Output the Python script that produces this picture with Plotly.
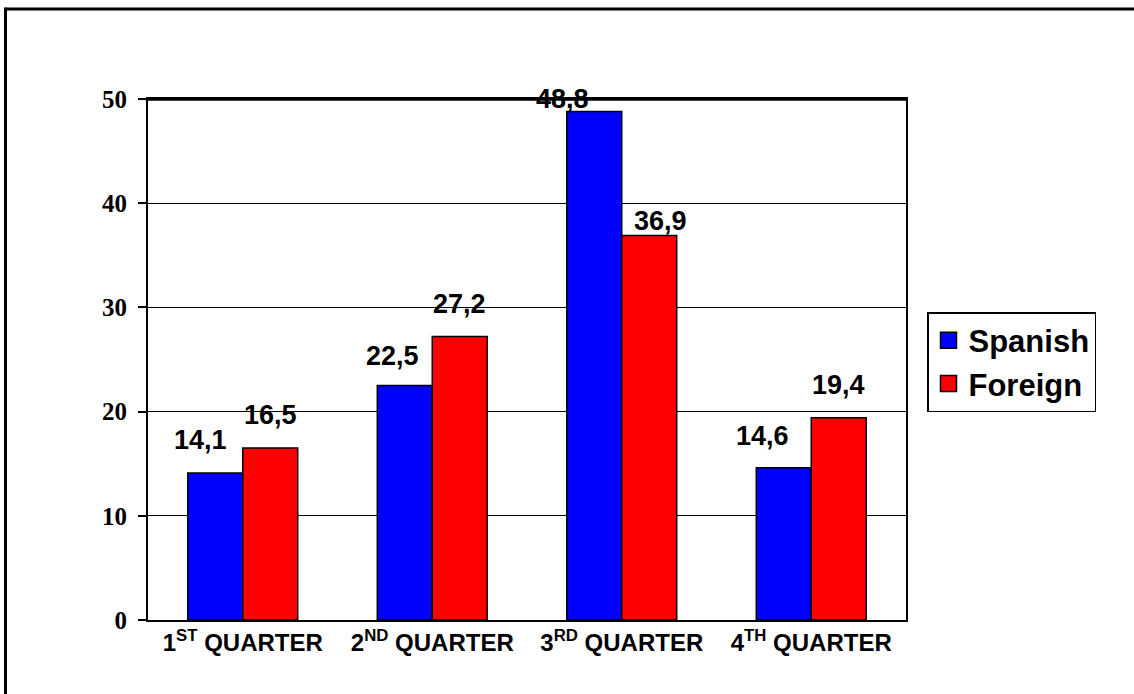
import plotly.graph_objects as go

quarters = ["Q1", "Q2", "Q3", "Q4"]
quarter_labels = ["1<sup>ST</sup> QUARTER", "2<sup>ND</sup> QUARTER",
                  "3<sup>RD</sup> QUARTER", "4<sup>TH</sup> QUARTER"]
spanish = [14.1, 22.5, 48.8, 14.6]
foreign = [16.5, 27.2, 36.9, 19.4]
y_ticks = [0, 10, 20, 30, 40, 50]

W, H = 1134, 694
L, R, T, B = 148, 906, 99, 620
BARGAP = 0.42

# value-label placement: horizontal nudge and lift above the bar top (px)
spanish_label_dx = [-15, -12, -32, -21]
spanish_label_lift = [21, 18, 1, 20]
foreign_label_dx = [0, 0, 11, 0]
foreign_label_lift = [21, 21, 3, 21]

bar_px = (R - L) / len(quarters) * (1 - BARGAP) / 2
series = [
    ("Spanish", spanish, "#0000FF", -bar_px / 2, spanish_label_dx, spanish_label_lift),
    ("Foreign", foreign, "#FF0000", bar_px / 2, foreign_label_dx, foreign_label_lift),
]

fig = go.Figure()
annotations = []
for i, (name, vals, color, centre, dxs, lifts) in enumerate(series):
    fig.add_trace(go.Bar(
        name=name, x=quarters, y=vals, showlegend=False,
        marker=dict(color=color, line=dict(color="black", width=1.5)),
    ))
    # legend entry with a larger square swatch
    fig.add_trace(go.Scatter(
        name=name, x=[None], y=[None], mode="markers", legendgroup=name,
        marker=dict(symbol="square", size=16, color=color, line=dict(color="black", width=1.5)),
    ))
    for q, v, dx, lift in zip(quarters, vals, dxs, lifts):
        annotations.append(dict(
            x=q, y=v, xref="x", yref="y", showarrow=False,
            text="<b>" + f"{v:.1f}".replace(".", ",") + "</b>",
            font=dict(family="Liberation Sans, Arial", size=27, color="black"),
            xanchor="center", yanchor="bottom", xshift=centre + dx, yshift=lift - 5,
        ))

fig.update_layout(
    width=W, height=H,
    margin=dict(l=L, r=W - R, t=T, b=H - B, autoexpand=False),
    paper_bgcolor="white", plot_bgcolor="white",
    barmode="group", bargap=BARGAP, bargroupgap=0,
    showlegend=True,
    legend=dict(
        x=(927 - L) / (R - L), y=(B - 312) / (B - T), xanchor="left", yanchor="top",
        font=dict(family="Liberation Sans, Arial", size=31, color="black", weight="bold"),
        bordercolor="black", borderwidth=1.5, bgcolor="white",
        itemwidth=30, tracegroupgap=0, itemsizing="trace",
    ),
    xaxis=dict(
        tickvals=quarters, ticktext=quarter_labels,
        tickfont=dict(family="Liberation Sans, Arial", size=24, color="black", weight="bold"),
        showline=True, linecolor="black", linewidth=2, mirror=True,
        ticks="", showgrid=False,
    ),
    yaxis=dict(
        range=[0, 50], tickvals=y_ticks,
        tickfont=dict(family="Liberation Serif, Times New Roman", size=25, color="black", weight="bold"),
        showline=True, linecolor="black", linewidth=2, mirror=True,
        ticks="outside", ticklen=8, tickwidth=1.5, tickcolor="black",
        ticklabelstandoff=6,
        showgrid=True, gridcolor="black", gridwidth=1.3, zeroline=False,
    ),
    annotations=annotations,
    shapes=[
        # heavier top edge of the plot area
        dict(type="line", xref="paper", yref="paper", x0=0, x1=1, y0=1, y1=1,
             line=dict(color="black", width=3.5)),
        # page frame: top and left edges
        dict(type="line", xref="paper", yref="paper",
             x0=(5.5 - L) / (R - L), x1=(W + 5 - L) / (R - L),
             y0=(B - 9) / (B - T), y1=(B - 9) / (B - T),
             line=dict(color="black", width=3)),
        dict(type="line", xref="paper", yref="paper",
             x0=(5.5 - L) / (R - L), x1=(5.5 - L) / (R - L),
             y0=(B - 7.5) / (B - T), y1=(B - H - 5) / (B - T),
             line=dict(color="black", width=3)),
    ],
)

fig.write_html("out.html")
